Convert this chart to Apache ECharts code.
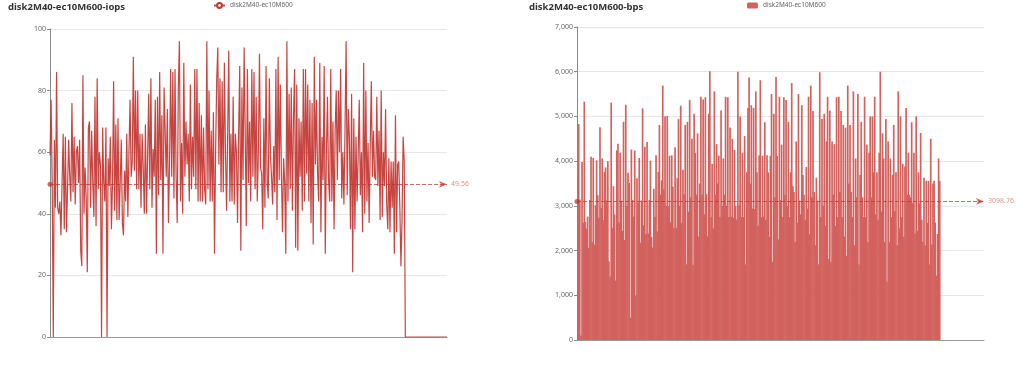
<!DOCTYPE html>
<html><head><meta charset="utf-8">
<script src="https://cdn.jsdelivr.net/npm/echarts@6/dist/echarts.min.js"></script>
<style>
html,body{margin:0;padding:0;background:#fff;}
#wrap{position:relative;width:1036px;height:368px;}
#left{position:absolute;left:0;top:0;width:518px;height:368px;}
#right{position:absolute;left:518px;top:0;width:518px;height:368px;}
</style>
</head><body>
<div id="wrap"><div id="left"></div><div id="right"></div></div>
<script>
const seriesName = 'disk2M40-ec10M600';
const iopsTitle = 'disk2M40-ec10M600-iops';
const bpsTitle = 'disk2M40-ec10M600-bps';

const iopsValues = [
59,77,50,0,64,42,86,42,40,44,
33,50,66,35,65,34,48,64,52,44,
76,47,65,43,60,62,50,64,28,23,
85,40,55,45,21,68,70,42,67,50,
39,78,36,84,48,60,56,0,68,50,
44,68,0,58,49,65,35,50,83,41,
69,38,71,38,50,64,37,33,54,44,
66,39,60,77,52,57,91,54,80,48,
80,48,66,42,66,55,40,69,40,58,
79,48,84,42,61,52,77,27,78,46,
86,51,72,27,81,67,52,74,37,56,
87,52,86,45,87,52,37,81,96,44,
63,40,89,52,70,56,66,44,82,48,
65,52,87,48,87,44,76,44,72,44,
68,48,43,96,48,80,44,67,44,73,
27,60,83,94,56,84,47,83,47,89,
60,41,66,93,44,66,44,78,43,66,
60,37,66,88,28,81,51,94,66,
36,87,50,70,44,87,52,86,48,78,
44,60,92,55,53,35,71,42,88,50,
45,84,59,52,43,62,47,87,38,91,
51,82,53,34,58,50,27,96,44,79,
48,81,41,71,87,29,82,28,71,52,
70,41,87,44,87,53,82,44,77,37,
76,30,91,56,77,53,44,89,34,65,
51,88,27,59,78,51,44,87,44,70,
35,67,80,51,80,60,87,45,60,43,
67,96,46,74,65,35,79,21,71,35,
65,44,59,77,46,60,34,89,40,80,
44,63,37,62,83,52,67,52,51,78,
49,67,38,80,39,60,49,74,43,35,
58,34,57,42,57,27,72,34,56,57,
42,23,38,65,57,
0,0,0,0,0,0,0,0,0,0,
0,0,0,0,0,0,0,0,0,0,
0,0,0,0,0,0,0,0,0,0,
0,0,0,0,0,0,0,0,0
];

const bpsValues = [
3690,4830,3140,100,3980,2620,5330,2640,2490,2760,
2060,3130,4100,2190,4070,2130,3010,4020,3240,2740,
4760,2950,4060,2680,3760,3860,3120,4000,1760,1420,
5310,2510,3440,2810,1330,4240,4390,2630,4190,3120,
2440,4880,2240,5260,3000,3740,3510,500,4260,3130,
2760,4240,1000,3620,3070,4070,2180,3120,5180,2570,
4320,2370,4430,2380,3130,4010,2310,2070,3380,2750,
4130,2430,3760,4810,3250,3570,5690,3370,5000,3000,
5010,2990,4120,2630,4130,3430,2500,4310,2510,3620,
4940,3000,5240,2620,3810,3260,4810,1690,4880,2870,
5370,3190,4500,1680,5060,4190,3250,4620,2310,3500,
5440,3250,5380,2810,5430,3260,2320,5060,6010,2750,
3940,2500,5560,3250,4380,3500,4120,2750,5130,3000,
4060,3250,5440,3000,5430,2750,4750,2760,4500,2740,
4250,3000,2690,6000,3010,5000,2750,4190,2750,4560,
1690,3750,5190,5870,3500,5250,2940,5190,2930,5560,
3750,2560,4130,5810,2750,4120,2760,4870,2690,4130,
3750,2310,4120,5500,1750,5060,3190,5880,4120,
2250,5440,3130,4370,2750,5430,3250,5370,3000,4880,
2750,3750,5750,3440,3310,2190,4440,2620,5500,3120,
2810,5250,3690,3250,2690,3870,2940,5440,2370,5690,
3190,5120,3310,2120,3630,3120,1690,5990,2750,4940,
3000,5060,2560,4440,5440,1810,5130,1750,4440,3250,
4380,2560,5430,2750,5440,3310,5120,2750,4810,2310,
4750,1880,5690,3500,4810,3310,2750,5560,2120,4060,
3190,5500,1690,3690,4880,3190,2750,5440,2750,4370,
2190,4190,5000,3190,5000,3750,5440,2810,3750,2690,
4190,6000,2870,4620,4060,2190,4940,1310,4440,2190,
4060,2750,3690,4810,2880,3750,2120,5560,2500,5000,
2750,3940,2310,3880,5190,3250,4190,3250,3190,4870,
3060,4190,2380,5000,2440,3750,3060,4630,2690,2190,
3630,2120,3560,2620,3560,1690,4500,2130,3500,3560,
2630,1440,2370,4060,3560,
0,0,0,0,0,0,0,0,0,0,
0,0,0,0,0,0,0,0,0,0,
0,0,0,0,0,0,0,0,0,0,
0,0,0,0,0,0,0,0,0
];

const categories = iopsValues.map((_, i) => String(i + 1));
const iopsAvg = 49.56;
const bpsAvg = 3098.76;
const iopsAxis = { min: 0, max: 100, interval: 20 };
const bpsAxis = { min: 0, max: 7000, interval: 1000 };

const RED = '#c23531';
const BAR_FILL = '#d2625e';
const FONT = '"Noto Sans", "DejaVu Sans", sans-serif';

function baseOption(title, gridCfg, titleLeft, legendLeft) {
  return {
    animation: false,
    color: [RED],
    textStyle: { fontFamily: FONT },
    title: {
      text: title, left: titleLeft, top: 2, padding: 0,
      textStyle: { fontSize: 9.5, fontWeight: 'bold', color: '#333', fontFamily: FONT }
    },
    legend: {
      data: [seriesName], left: legendLeft, top: 2, padding: 0,
      itemWidth: 11, itemHeight: 6, itemGap: 5,
      textStyle: { fontSize: 6.5, color: '#666', fontFamily: FONT }
    },
    grid: gridCfg
  };
}

function yAxisCfg(ax) {
  return {
    type: 'value', min: ax.min, max: ax.max, interval: ax.interval,
    axisLine: { show: true, lineStyle: { color: '#888', width: 1 } },
    axisTick: { show: true, length: 3, lineStyle: { color: '#888' } },
    axisLabel: { fontSize: 7, color: '#666', margin: 4, fontFamily: FONT },
    splitLine: { lineStyle: { color: '#e6e6e6', width: 1 } }
  };
}

function xAxisCfg(boundaryGap) {
  return {
    type: 'category', data: categories, boundaryGap: boundaryGap,
    axisLine: { show: true, lineStyle: { color: '#999', width: 1 } },
    axisTick: { show: false },
    axisLabel: { show: false },
    splitLine: { show: false }
  };
}

function markLineCfg(v) {
  return {
    silent: true,
    symbol: ['circle', 'arrow'],
    symbolSize: [5, 8],
    lineStyle: { type: 'dashed', width: 1, color: RED, opacity: 0.75 },
    label: { show: true, position: 'end', fontSize: 7, color: '#d46a66', distance: 4, fontFamily: FONT },
    data: [{ yAxis: v }]
  };
}

const leftChart = echarts.init(document.getElementById('left'));
const lo = baseOption(iopsTitle, { left: 50, top: 29, width: 397, height: 308 }, 8, 213);
lo.xAxis = xAxisCfg(false);
lo.yAxis = yAxisCfg(iopsAxis);
lo.series = [{
  name: seriesName, type: 'line', data: iopsValues,
  showSymbol: false, symbol: 'emptyCircle',
  lineStyle: { width: 1.2, color: RED, opacity: 0.92 },
  itemStyle: { color: RED },
  markLine: markLineCfg(iopsAvg)
}];
leftChart.setOption(lo);

const rightChart = echarts.init(document.getElementById('right'));
const ro = baseOption(bpsTitle, { left: 59, top: 27, width: 407, height: 313 }, 11, 229);
ro.xAxis = xAxisCfg(true);
ro.yAxis = yAxisCfg(bpsAxis);
ro.series = [{
  name: seriesName, type: 'bar', data: bpsValues,
  barWidth: '150%',
  itemStyle: { color: BAR_FILL },
  markLine: markLineCfg(bpsAvg)
}];
rightChart.setOption(ro);
</script>
</body></html>
